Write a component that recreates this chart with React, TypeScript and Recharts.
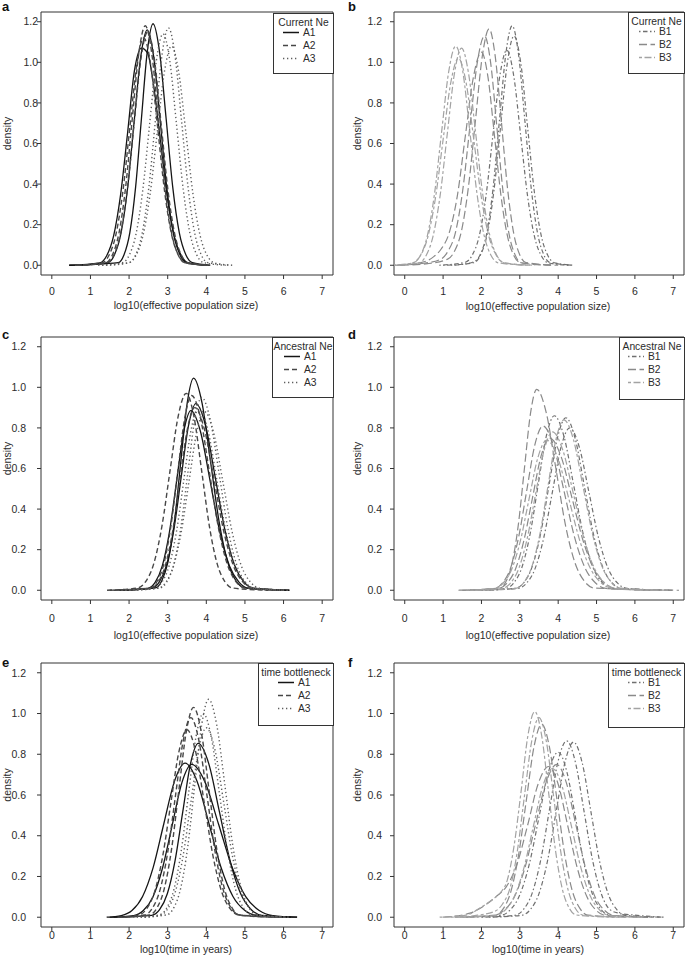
import React from 'react';
import { LineChart, Line, XAxis, YAxis, ReferenceArea } from 'recharts';

type Pt = [number, number];

const xTicks = [0, 1, 2, 3, 4, 5, 6, 7];
const yTicks = [0, 0.2, 0.4, 0.6, 0.8, 1.0, 1.2];

// a: current Ne, populations A
const aA1_1: Pt[] = [[0.45,0],[1.72,0.013],[1.87,0.052],[2.02,0.161],[2.17,0.386],[2.32,0.722],[2.47,1.05],[2.62,1.19],[2.79,1.05],[2.96,0.722],[3.13,0.386],[3.3,0.161],[3.47,0.052],[3.64,0.013],[4.1,0]];
const aA1_2: Pt[] = [[0.45,0],[1.24,0.012],[1.42,0.047],[1.6,0.145],[1.78,0.347],[1.96,0.649],[2.14,0.96],[2.32,1.07],[2.48,1.045],[2.64,0.88],[2.82,0.6],[3.0,0.32],[3.18,0.135],[3.36,0.044],[3.54,0.011],[4.0,0]];
const aA1_3: Pt[] = [[0.7,0],[1.45,0.013],[1.62,0.051],[1.79,0.157],[1.96,0.377],[2.13,0.704],[2.3,1.024],[2.47,1.16],[2.64,1.024],[2.81,0.704],[2.98,0.377],[3.15,0.157],[3.32,0.051],[3.49,0.013],[4.0,0]];
const aA2_1: Pt[] = [[0.6,0],[1.4,0.013],[1.57,0.052],[1.74,0.16],[1.91,0.383],[2.08,0.716],[2.25,1.041],[2.42,1.18],[2.59,1.041],[2.76,0.716],[2.93,0.383],[3.1,0.16],[3.27,0.052],[3.44,0.013],[4.05,0]];
const aA2_2: Pt[] = [[0.8,0],[1.43,0.013],[1.605,0.05],[1.78,0.156],[1.955,0.373],[2.13,0.697],[2.305,1.015],[2.48,1.15],[2.655,1.015],[2.83,0.697],[3.005,0.373],[3.18,0.156],[3.355,0.05],[3.53,0.013],[4.1,0]];
const aA2_3: Pt[] = [[0.65,0],[1.3,0.012],[1.48,0.049],[1.66,0.152],[1.84,0.364],[2.02,0.679],[2.2,0.988],[2.38,1.12],[2.56,0.988],[2.74,0.679],[2.92,0.364],[3.1,0.152],[3.28,0.049],[3.46,0.012],[4.0,0]];
const aA3_1: Pt[] = [[1.3,0],[2.0,0.013],[2.17,0.051],[2.34,0.158],[2.51,0.38],[2.68,0.71],[2.85,1.033],[3.02,1.17],[3.19,1.033],[3.36,0.71],[3.53,0.38],[3.7,0.158],[3.87,0.051],[4.04,0.013],[4.7,0]];
const aA3_2: Pt[] = [[1.2,0],[1.83,0.013],[2.005,0.05],[2.18,0.154],[2.355,0.37],[2.53,0.691],[2.705,1.006],[2.88,1.14],[3.055,1.006],[3.23,0.691],[3.405,0.37],[3.58,0.154],[3.755,0.05],[3.93,0.013],[4.5,0]];
const aA3_3: Pt[] = [[1.4,0],[1.99,0.012],[2.175,0.047],[2.36,0.146],[2.545,0.351],[2.73,0.655],[2.915,0.953],[3.1,1.08],[3.285,0.953],[3.47,0.655],[3.655,0.351],[3.84,0.146],[4.025,0.047],[4.21,0.012],[4.65,0]];

// b: current Ne, populations B
const bB1_1: Pt[] = [[1.0,0],[1.5,0.005],[1.81,0.018],[1.975,0.055],[2.14,0.16],[2.305,0.383],[2.47,0.716],[2.635,1.041],[2.8,1.18],[2.965,1.041],[3.13,0.716],[3.295,0.383],[3.46,0.16],[3.625,0.052],[3.79,0.013],[4.4,0]];
const bB1_2: Pt[] = [[0.9,0],[1.58,0.015],[1.76,0.05],[1.94,0.143],[2.12,0.344],[2.3,0.643],[2.48,0.935],[2.66,1.06],[2.84,0.935],[3.02,0.643],[3.2,0.344],[3.38,0.143],[3.56,0.047],[3.74,0.012],[4.3,0]];
const bB1_3: Pt[] = [[1.2,0],[1.8,0.0125],[1.975,0.05],[2.15,0.153],[2.325,0.367],[2.5,0.685],[2.675,0.997],[2.85,1.13],[3.025,0.997],[3.2,0.685],[3.375,0.367],[3.55,0.153],[3.725,0.05],[3.9,0.0125],[4.4,0]];
const bB2_1: Pt[] = [[-0.1,0],[0.6,0.008],[1.12,0.03],[1.3,0.07],[1.48,0.17],[1.66,0.385],[1.84,0.707],[2.02,1.028],[2.2,1.165],[2.36,1.028],[2.52,0.707],[2.68,0.378],[2.84,0.158],[3.0,0.051],[3.16,0.013],[4.0,0]];
const bB2_2: Pt[] = [[-0.2,0],[0.5,0.01],[0.94,0.03],[1.13,0.07],[1.32,0.16],[1.51,0.367],[1.7,0.685],[1.89,0.997],[2.08,1.13],[2.24,0.997],[2.4,0.685],[2.56,0.367],[2.72,0.153],[2.88,0.05],[3.04,0.0125],[3.9,0]];
const bB2_3: Pt[] = [[-0.25,0],[0.4,0.012],[0.74,0.04],[0.95,0.08],[1.16,0.16],[1.37,0.341],[1.58,0.637],[1.79,0.927],[2.0,1.05],[2.17,0.927],[2.34,0.637],[2.51,0.341],[2.68,0.142],[2.85,0.046],[3.02,0.012],[3.8,0]];
const bB3_1: Pt[] = [[-0.3,0],[0.22,0.012],[0.405,0.047],[0.59,0.146],[0.775,0.351],[0.96,0.655],[1.145,0.953],[1.33,1.08],[1.515,0.953],[1.7,0.655],[1.885,0.351],[2.07,0.146],[2.255,0.047],[2.44,0.012],[3.2,0]];
const bB3_2: Pt[] = [[-0.3,0],[0.37,0.012],[0.555,0.047],[0.74,0.145],[0.925,0.347],[1.11,0.649],[1.295,0.944],[1.48,1.07],[1.665,0.944],[1.85,0.649],[2.035,0.347],[2.22,0.145],[2.405,0.047],[2.59,0.012],[3.4,0]];
const bB3_3: Pt[] = [[-0.2,0],[0.2,0.011],[0.4,0.045],[0.6,0.138],[0.8,0.331],[1.0,0.619],[1.2,0.9],[1.4,1.02],[1.6,0.9],[1.8,0.619],[2.0,0.331],[2.2,0.138],[2.4,0.045],[2.6,0.011],[3.3,0]];

// c: ancestral Ne, populations A
const cA1_1: Pt[] = [[1.75,0],[2.68,0.0116],[2.845,0.046],[3.01,0.141],[3.175,0.339],[3.34,0.634],[3.505,0.922],[3.67,1.045],[3.89,0.922],[4.11,0.634],[4.33,0.339],[4.55,0.141],[4.77,0.046],[4.99,0.0116],[6.15,0]];
const cA1_2: Pt[] = [[1.75,0],[2.59,0.01],[2.78,0.04],[2.97,0.124],[3.16,0.299],[3.35,0.558],[3.54,0.812],[3.73,0.92],[3.98,0.812],[4.23,0.558],[4.48,0.299],[4.73,0.124],[4.98,0.04],[5.23,0.01],[6.15,0]];
const cA1_3: Pt[] = [[1.8,0],[2.49,0.0098],[2.675,0.039],[2.86,0.12],[3.045,0.287],[3.23,0.537],[3.415,0.781],[3.6,0.885],[3.85,0.781],[4.1,0.537],[4.35,0.287],[4.6,0.12],[4.85,0.039],[5.1,0.0098],[6.0,0]];
const cA2_1: Pt[] = [[1.43,0],[2.22,0.011],[2.43,0.043],[2.64,0.131],[2.85,0.315],[3.06,0.588],[3.27,0.856],[3.48,0.97],[3.68,0.856],[3.88,0.588],[4.08,0.315],[4.28,0.131],[4.48,0.043],[4.68,0.011],[5.6,0]];
const cA2_2: Pt[] = [[1.5,0],[2.54,0.011],[2.72,0.042],[2.9,0.13],[3.08,0.312],[3.26,0.582],[3.44,0.847],[3.62,0.96],[3.85,0.847],[4.08,0.582],[4.31,0.312],[4.54,0.13],[4.77,0.042],[5.0,0.011],[5.9,0]];
const cA2_3: Pt[] = [[1.6,0],[2.56,0.01],[2.75,0.04],[2.94,0.122],[3.13,0.292],[3.32,0.546],[3.51,0.794],[3.7,0.9],[3.95,0.794],[4.2,0.546],[4.45,0.292],[4.7,0.122],[4.95,0.04],[5.2,0.01],[6.1,0]];
const cA3_1: Pt[] = [[1.9,0],[2.8,0.011],[2.98,0.042],[3.16,0.129],[3.34,0.308],[3.52,0.576],[3.7,0.838],[3.88,0.95],[4.105,0.838],[4.33,0.576],[4.555,0.308],[4.78,0.129],[5.005,0.042],[5.23,0.011],[6.1,0]];
const cA3_2: Pt[] = [[1.8,0],[2.66,0.01],[2.85,0.04],[3.04,0.122],[3.23,0.292],[3.42,0.546],[3.61,0.794],[3.8,0.9],[4.035,0.794],[4.27,0.546],[4.505,0.292],[4.74,0.122],[4.975,0.04],[5.21,0.01],[6.0,0]];
const cA3_3: Pt[] = [[2.0,0],[2.75,0.0098],[2.95,0.039],[3.15,0.119],[3.35,0.286],[3.55,0.534],[3.75,0.777],[3.95,0.88],[4.19,0.777],[4.43,0.534],[4.67,0.286],[4.91,0.119],[5.15,0.039],[5.39,0.0098],[6.15,0]];

// d: ancestral Ne, populations B
const dB1_1: Pt[] = [[1.8,0],[2.64,0.0095],[2.85,0.038],[3.06,0.116],[3.27,0.279],[3.48,0.522],[3.69,0.759],[3.9,0.86],[4.15,0.759],[4.4,0.522],[4.65,0.279],[4.9,0.116],[5.15,0.038],[5.4,0.0095],[6.6,0]];
const dB1_2: Pt[] = [[2.0,0],[2.88,0.0094],[3.1,0.037],[3.32,0.115],[3.54,0.276],[3.76,0.516],[3.98,0.75],[4.2,0.85],[4.44,0.75],[4.68,0.516],[4.92,0.276],[5.16,0.115],[5.4,0.037],[5.64,0.0094],[6.9,0]];
const dB1_3: Pt[] = [[2.1,0],[2.95,0.009],[3.175,0.035],[3.4,0.108],[3.625,0.26],[3.85,0.485],[4.075,0.706],[4.3,0.8],[4.55,0.706],[4.8,0.485],[5.05,0.26],[5.3,0.108],[5.55,0.035],[5.8,0.009],[7.0,0]];
const dB2_1: Pt[] = [[1.4,0],[2.48,0.011],[2.64,0.043],[2.8,0.134],[2.96,0.321],[3.12,0.6],[3.28,0.874],[3.44,0.99],[3.69,0.874],[3.94,0.6],[4.19,0.321],[4.44,0.134],[4.69,0.043],[4.94,0.011],[7.15,0]];
const dB2_2: Pt[] = [[1.5,0],[2.34,0.009],[2.55,0.036],[2.76,0.11],[2.97,0.263],[3.18,0.491],[3.39,0.715],[3.6,0.81],[3.875,0.715],[4.15,0.491],[4.425,0.263],[4.7,0.11],[4.975,0.036],[5.25,0.009],[6.5,0]];
const dB2_3: Pt[] = [[1.6,0],[2.43,0.008],[2.655,0.033],[2.88,0.101],[3.105,0.244],[3.33,0.455],[3.555,0.662],[3.78,0.75],[4.07,0.662],[4.36,0.455],[4.65,0.244],[4.94,0.101],[5.23,0.033],[5.52,0.008],[6.8,0]];
const dB3_1: Pt[] = [[1.9,0],[2.89,0.0093],[3.1,0.037],[3.31,0.114],[3.52,0.273],[3.73,0.509],[3.94,0.741],[4.15,0.84],[4.4,0.741],[4.65,0.509],[4.9,0.273],[5.15,0.114],[5.4,0.037],[5.65,0.0093],[6.9,0]];
const dB3_2: Pt[] = [[1.7,0],[2.53,0.0087],[2.75,0.034],[2.97,0.106],[3.19,0.253],[3.41,0.473],[3.63,0.688],[3.85,0.78],[4.125,0.688],[4.4,0.473],[4.675,0.253],[4.95,0.106],[5.225,0.034],[5.5,0.0087],[6.7,0]];
const dB3_3: Pt[] = [[1.6,0],[2.32,0.008],[2.55,0.032],[2.78,0.1],[3.01,0.24],[3.24,0.449],[3.47,0.653],[3.7,0.74],[3.99,0.653],[4.28,0.449],[4.57,0.24],[4.86,0.1],[5.15,0.032],[5.44,0.008],[6.6,0]];

// e: time of bottleneck, populations A
const eA1_1: Pt[] = [[1.6,0],[2.59,0.0095],[2.79,0.037],[2.99,0.115],[3.19,0.277],[3.39,0.517],[3.59,0.753],[3.79,0.853],[4.065,0.753],[4.34,0.517],[4.615,0.277],[4.89,0.115],[5.165,0.037],[5.44,0.0095],[6.35,0]];
const eA1_2: Pt[] = [[1.42,0],[1.8,0.0084],[2.075,0.033],[2.35,0.102],[2.625,0.245],[2.9,0.459],[3.175,0.667],[3.45,0.756],[3.76,0.667],[4.07,0.459],[4.38,0.245],[4.69,0.102],[5.0,0.033],[5.31,0.0084],[6.2,0]];
const eA1_3: Pt[] = [[1.5,0],[2.12,0.0083],[2.37,0.033],[2.62,0.101],[2.87,0.244],[3.12,0.455],[3.37,0.662],[3.62,0.75],[3.97,0.662],[4.32,0.455],[4.67,0.244],[5.02,0.101],[5.37,0.033],[5.72,0.0083],[6.35,0]];
const eA2_1: Pt[] = [[1.8,0],[2.53,0.011],[2.72,0.045],[2.91,0.139],[3.1,0.334],[3.29,0.625],[3.48,0.909],[3.67,1.03],[3.87,0.909],[4.07,0.625],[4.27,0.334],[4.47,0.139],[4.67,0.045],[4.87,0.011],[5.9,0]];
const eA2_2: Pt[] = [[1.7,0],[2.24,0.01],[2.45,0.04],[2.66,0.124],[2.87,0.299],[3.08,0.558],[3.29,0.812],[3.5,0.92],[3.725,0.812],[3.95,0.558],[4.175,0.299],[4.4,0.124],[4.625,0.04],[4.85,0.01],[5.8,0]];
const eA2_3: Pt[] = [[1.9,0],[2.4,0.011],[2.6,0.043],[2.8,0.133],[3.0,0.318],[3.2,0.594],[3.4,0.865],[3.6,0.98],[3.81,0.865],[4.02,0.594],[4.23,0.318],[4.44,0.133],[4.65,0.043],[4.86,0.011],[5.9,0]];
const eA3_1: Pt[] = [[2.3,0],[2.98,0.012],[3.16,0.047],[3.34,0.145],[3.52,0.347],[3.7,0.649],[3.88,0.944],[4.06,1.07],[4.27,0.944],[4.48,0.649],[4.69,0.347],[4.9,0.145],[5.11,0.047],[5.32,0.012],[6.2,0]];
const eA3_2: Pt[] = [[2.2,0],[2.78,0.011],[2.97,0.044],[3.16,0.135],[3.35,0.325],[3.54,0.607],[3.73,0.8825],[3.92,1.0],[4.13,0.8825],[4.34,0.607],[4.55,0.325],[4.76,0.135],[4.97,0.044],[5.18,0.011],[6.1,0]];
const eA3_3: Pt[] = [[2.4,0],[2.8,0.01],[3.0,0.041],[3.2,0.126],[3.4,0.302],[3.6,0.564],[3.8,0.821],[4.0,0.93],[4.225,0.821],[4.45,0.564],[4.675,0.302],[4.9,0.126],[5.125,0.041],[5.35,0.01],[6.2,0]];

// f: time of bottleneck, populations B
const fB1_1: Pt[] = [[2.0,0],[2.87,0.0096],[3.095,0.038],[3.32,0.117],[3.545,0.281],[3.77,0.525],[3.995,0.764],[4.22,0.866],[4.445,0.764],[4.67,0.525],[4.895,0.281],[5.12,0.117],[5.345,0.038],[5.57,0.02],[6.0,0.01],[6.75,0]];
const fB1_2: Pt[] = [[2.2,0],[3.05,0.0095],[3.275,0.038],[3.5,0.116],[3.725,0.279],[3.95,0.522],[4.175,0.759],[4.4,0.86],[4.625,0.759],[4.85,0.522],[5.075,0.279],[5.3,0.116],[5.525,0.038],[5.75,0.0095],[6.75,0]];
const fB1_3: Pt[] = [[1.6,0],[2.5,0.009],[2.75,0.036],[3.0,0.11],[3.25,0.263],[3.5,0.491],[3.75,0.715],[4.0,0.81],[4.225,0.715],[4.45,0.491],[4.675,0.263],[4.9,0.11],[5.125,0.036],[5.35,0.009],[6.4,0]];
const fB2_1: Pt[] = [[1.3,0],[2.37,0.0105],[2.57,0.042],[2.77,0.128],[2.97,0.308],[3.17,0.575],[3.37,0.837],[3.57,0.948],[3.77,0.837],[3.97,0.575],[4.17,0.308],[4.37,0.128],[4.57,0.042],[4.77,0.0105],[5.8,0]];
const fB2_2: Pt[] = [[1.5,0],[2.31,0.0083],[2.585,0.033],[2.86,0.101],[3.135,0.244],[3.41,0.455],[3.685,0.662],[3.96,0.75],[4.21,0.662],[4.46,0.455],[4.71,0.244],[4.96,0.101],[5.21,0.033],[5.46,0.0083],[6.5,0]];
const fB2_3: Pt[] = [[1.0,0],[1.7,0.02],[2.1,0.06],[2.375,0.1],[2.65,0.15],[2.925,0.26],[3.2,0.449],[3.475,0.653],[3.75,0.74],[4.0,0.653],[4.25,0.449],[4.5,0.24],[4.75,0.1],[5.0,0.032],[5.25,0.008],[6.3,0]];
const fB3_1: Pt[] = [[0.91,0],[1.6,0.01],[2.0,0.05],[2.31,0.09],[2.49,0.12],[2.67,0.18],[2.85,0.35],[3.03,0.613],[3.21,0.891],[3.39,1.01],[3.57,0.891],[3.75,0.613],[3.93,0.328],[4.11,0.137],[4.29,0.044],[4.47,0.011],[5.5,0]];
const fB3_2: Pt[] = [[1.2,0],[1.9,0.01],[2.36,0.03],[2.55,0.065],[2.74,0.14],[2.93,0.318],[3.12,0.594],[3.31,0.865],[3.5,0.98],[3.69,0.865],[3.88,0.594],[4.07,0.318],[4.26,0.133],[4.45,0.043],[4.64,0.011],[5.6,0]];
const fB3_3: Pt[] = [[1.3,0],[2.35,0.008],[2.6,0.032],[2.85,0.099],[3.1,0.237],[3.35,0.443],[3.6,0.644],[3.85,0.73],[4.1,0.644],[4.35,0.443],[4.6,0.237],[4.85,0.099],[5.1,0.032],[5.35,0.008],[6.2,0]];

// line look per population (R lty: solid, dashed, dotted, dotdash, longdash, twodash)
const styles: Record<string, { stroke: string; dash?: string; width: number }> = {
  A1: { stroke: '#151515', width: 1.3 },
  A2: { stroke: '#474747', dash: '5 3', width: 1.4 },
  A3: { stroke: '#5e5e5e', dash: '1.3 2.7', width: 1.4 },
  B1: { stroke: '#707070', dash: '1.5 2.5 4.5 2.5', width: 1.2 },
  B2: { stroke: '#8a8a8a', dash: '8 3.5', width: 1.2 },
  B3: { stroke: '#a3a3a3', dash: '3 2.5 7 2.5', width: 1.2 },
};

const panels = [
  {
    id: 'a', box: { x: 41, y: 12, w: 292, h: 263 }, yTickEnd: 38, xLabelGap: 9, letterY: 11,
    legend: { title: 'Current Ne', x: 273, y: 13, w: 60, h: 60, labelX: 303 },
    xTitle: 'log10(effective population size)', xTitleY: 309,
    series: [['A1', [aA1_1, aA1_2, aA1_3]], ['A2', [aA2_1, aA2_2, aA2_3]], ['A3', [aA3_1, aA3_2, aA3_3]]],
  },
  {
    id: 'b', box: { x: 394, y: 12, w: 290, h: 263 }, yTickEnd: 382, xLabelGap: 9, letterY: 11,
    legend: { title: 'Current Ne', x: 628, y: 12, w: 56, h: 61, labelX: 659 },
    xTitle: 'log10(effective population size)', xTitleY: 310,
    series: [['B1', [bB1_1, bB1_2, bB1_3]], ['B2', [bB2_1, bB2_2, bB2_3]], ['B3', [bB3_1, bB3_2, bB3_3]]],
  },
  {
    id: 'c', box: { x: 41, y: 337, w: 292, h: 263 }, yTickEnd: 26, xLabelGap: 11, letterY: 339,
    legend: { title: 'Ancestral Ne', x: 272, y: 337, w: 61, h: 60, labelX: 304 },
    xTitle: 'log10(effective population size)', xTitleY: 639,
    series: [['A1', [cA1_1, cA1_2, cA1_3]], ['A2', [cA2_1, cA2_2, cA2_3]], ['A3', [cA3_1, cA3_2, cA3_3]]],
  },
  {
    id: 'd', box: { x: 394, y: 337, w: 290, h: 263 }, yTickEnd: 382, xLabelGap: 11, letterY: 339,
    legend: { title: 'Ancestral Ne', x: 619, y: 337, w: 65, h: 62, labelX: 648 },
    xTitle: 'log10(effective population size)', xTitleY: 639,
    series: [['B1', [dB1_1, dB1_2, dB1_3]], ['B2', [dB2_1, dB2_2, dB2_3]], ['B3', [dB3_1, dB3_2, dB3_3]]],
  },
  {
    id: 'e', box: { x: 41, y: 663, w: 292, h: 264 }, yTickEnd: 26, xLabelGap: 1, letterY: 667,
    legend: { title: 'time bottleneck', x: 258, y: 663, w: 75, h: 62, labelX: 298 },
    xTitle: 'log10(time in years)', xTitleY: 953,
    series: [['A1', [eA1_1, eA1_2, eA1_3]], ['A2', [eA2_1, eA2_2, eA2_3]], ['A3', [eA3_1, eA3_2, eA3_3]]],
  },
  {
    id: 'f', box: { x: 394, y: 663, w: 290, h: 264 }, yTickEnd: 382, xLabelGap: 1, letterY: 667,
    legend: { title: 'time bottleneck', x: 608, y: 663, w: 76, h: 64, labelX: 648 },
    xTitle: 'log10(time in years)', xTitleY: 953,
    series: [['B1', [fB1_1, fB1_2, fB1_3]], ['B2', [fB2_1, fB2_2, fB2_3]], ['B3', [fB3_1, fB3_2, fB3_3]]],
  },
] as const;

const FONT = '"Liberation Sans", Arial, sans-serif';
const INK = '#2b2b2b';
const PAD_L = 45;
const PAD_T = 10;

function Panel({ p }: { p: any }) {
  const { box } = p;
  const tickMarginY = box.x - 4 - p.yTickEnd;
  return (
    <div style={{ position: 'absolute', left: box.x - PAD_L, top: box.y - PAD_T }}>
      <LineChart
        width={box.w + PAD_L + 5}
        height={box.h + PAD_T + 30}
        margin={{ top: PAD_T, right: 5, left: 0, bottom: 0 }}
      >
        <XAxis
          type="number"
          dataKey="x"
          domain={[-0.28, 7.28]}
          ticks={xTicks}
          interval={0}
          allowDataOverflow
          axisLine={false}
          tickLine={{ stroke: '#333' }}
          tickSize={4}
          tickMargin={p.xLabelGap}
          height={30}
          tick={{ fontSize: 10.5, fill: INK, fontFamily: FONT }}
        />
        <YAxis
          type="number"
          domain={[-0.048, 1.248]}
          ticks={yTicks}
          interval={0}
          allowDataOverflow
          axisLine={false}
          tickLine={{ stroke: '#333' }}
          tickSize={4}
          tickMargin={tickMarginY}
          width={PAD_L}
          tickFormatter={(v: number) => v.toFixed(1)}
          tick={{ fontSize: 10.5, fill: INK, fontFamily: FONT }}
        />
        <ReferenceArea
          x1={-0.28}
          x2={7.28}
          y1={-0.048}
          y2={1.248}
          fill="none"
          fillOpacity={0}
          stroke="#333"
          strokeWidth={1}
          ifOverflow="visible"
        />
        {p.series.flatMap(([key, curves]: any) =>
          curves.map((c: Pt[], i: number) => (
            <Line
              key={`${key}-${i}`}
              data={c.map(([x, y]) => ({ x, y }))}
              dataKey="y"
              type="monotone"
              dot={false}
              activeDot={false}
              stroke={styles[key].stroke}
              strokeWidth={styles[key].width}
              strokeDasharray={styles[key].dash}
              isAnimationActive={false}
            />
          ))
        )}
      </LineChart>
    </div>
  );
}

function Texts() {
  return (
    <svg
      width={685}
      height={965}
      style={{ position: 'absolute', left: 0, top: 0, pointerEvents: 'none' }}
      fontFamily={FONT}
    >
      {panels.map((p: any, idx) => {
        const { box, legend: lg } = p;
        const left = idx % 2 === 0;
        const yMid = box.y + box.h / 2 - 10;
        const rows = [lg.y + 23, lg.y + 36, lg.y + 49];
        return (
          <g key={p.id}>
            <text x={left ? 2 : 348} y={p.letterY} fontSize={13} fontWeight="bold" fill="#111">
              {p.id}
            </text>
            <text
              x={left ? 7 : 357}
              y={yMid}
              fontSize={10.5}
              fill={INK}
              textAnchor="middle"
              dominantBaseline="central"
              transform={`rotate(-90 ${left ? 7 : 357} ${yMid})`}
            >
              density
            </text>
            <text x={box.x + box.w / 2 - 1} y={p.xTitleY} fontSize={10.5} fill={INK} textAnchor="middle">
              {p.xTitle}
            </text>
            <rect x={lg.x + 0.5} y={lg.y + 0.5} width={lg.w} height={lg.h} fill="#fff" stroke="#333" strokeWidth={1} />
            <text x={lg.x + lg.w / 2 + 0.5} y={lg.y + 13} fontSize={10.3} fill={INK} textAnchor="middle">
              {lg.title}
            </text>
            {p.series.map(([key]: any, i: number) => (
              <g key={key}>
                <line
                  x1={lg.labelX - 20}
                  x2={lg.labelX - 4}
                  y1={rows[i] - 3.5}
                  y2={rows[i] - 3.5}
                  stroke={styles[key].stroke}
                  strokeWidth={styles[key].width + 0.2}
                  strokeDasharray={styles[key].dash}
                />
                <text x={lg.labelX} y={rows[i]} fontSize={10.3} fill={INK}>
                  {key}
                </text>
              </g>
            ))}
          </g>
        );
      })}
    </svg>
  );
}

export default function App() {
  return (
    <div style={{ position: 'absolute', left: 0, top: 0, width: 685, height: 965, background: '#fff' }}>
      {panels.map((p) => (
        <Panel key={p.id} p={p} />
      ))}
      <Texts />
    </div>
  );
}
